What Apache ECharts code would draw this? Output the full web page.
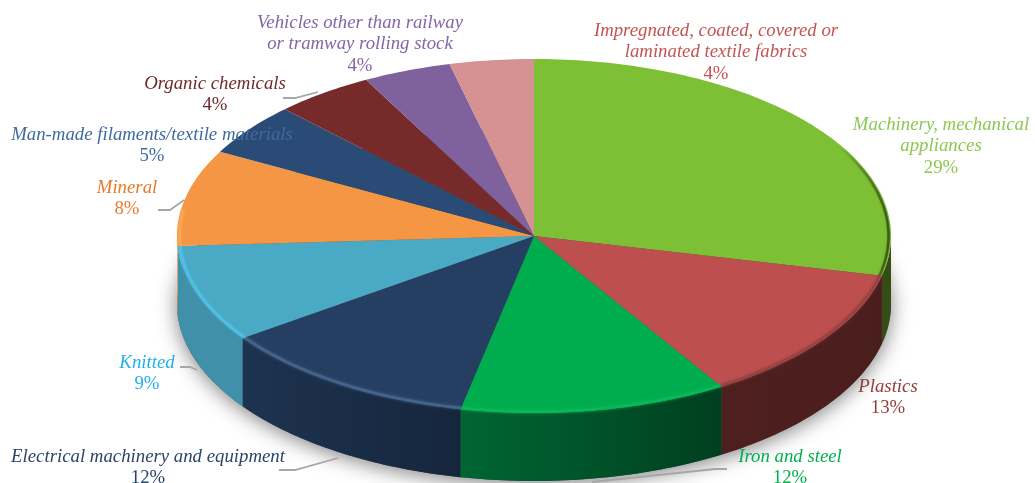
<!DOCTYPE html>
<html>
<head>
<meta charset="utf-8">
<title>Export shares by product group</title>
<style>
  html, body { margin: 0; padding: 0; background: #fff; }
  #chart { width: 1035px; height: 483px; }
</style>
<script src="https://cdn.jsdelivr.net/npm/echarts@6/dist/echarts.min.js"></script>
</head>
<body>
<div id="chart"></div>
<script>
// values, clockwise from 12 o'clock
const categories = [
  'Machinery, mechanical\nappliances',
  'Plastics',
  'Iron and steel',
  'Electrical machinery and equipment',
  'Knitted',
  'Mineral',
  'Man-made filaments/textile materials',
  'Organic chemicals',
  'Vehicles other than railway\nor tramway rolling stock',
  'Impregnated, coated, covered or\nlaminated textile fabrics'
]
// slice sizes as drawn, and the percentages printed on the labels
const shares = [28.6, 12.6, 12.1, 11.9, 8.9, 8.8, 4.8, 4.5, 4.0, 3.8]
const shareLabels = [29, 13, 12, 12, 9, 8, 5, 4, 4, 4]

// colours
const topColors = ['#7dbf35', '#bd4f4e', '#00ad4e', '#243f62', '#4aa9c4', '#f59644', '#2a4b75', '#762a2a', '#7f629d', '#d69292']
const wallColors = [
  ['#344d14', '#344d14'], ['#4f1f1f', '#4b1e1e'], ['#006633', '#003f1f'], ['#1e3350', '#15263c'], ['#4090aa', '#4090aa'],
  ['#f0a050', '#f0a050'], ['#1e3350', '#1e3350'], ['#5a2020', '#5a2020'], ['#5f4a76', '#5f4a76'], ['#a06e6e', '#a06e6e']
]
const rimColors = ['#4a6a1c', '#9a4242', '#0bb858', '#45648c', '#4fc0e6', '#fba656', null, null, null, null]
const labelColors = ['#8cc850', '#943c3c', '#00b050', '#2b4468', '#1fb0ea', '#e97a27', '#3f6a9f', '#6f2a2a', '#8266a8', '#c65353']

// layout: label centre x / top y, and the leader lines
const labelPos = [[941, 114], [888, 376], [790, 446], [148, 446], [147, 352], [127, 177], [152, 124], [215, 73], [360, 12], [716, 20]]
const leaderPaths = [
  null, null,
  [[727, 469], [715, 469], [592, 482]],
  [[279, 470], [295, 470], [338, 458]],
  [[180, 367], [190, 367], [197, 370]],
  [[158, 210], [170, 210], [184, 200]],
  null,
  [[283, 98], [295, 98], [318, 92]],
  null, null
]
const PIE = { cx: 534, cy: 236, rx: 357, ry: 177, depth: 68 }
const LABEL_FONT = '"Liberation Serif", "Times New Roman", serif'

const total = shares.reduce((a, b) => a + b, 0)
const starts = []
shares.reduce((sum, v, i) => { starts[i] = sum / total * 360; return sum + v }, 0)

function ellipsePt(deg, dy = 0, k = 1) {
  const t = deg * Math.PI / 180
  return [PIE.cx + PIE.rx * k * Math.sin(t), PIE.cy + dy - PIE.ry * k * Math.cos(t)]
}

function arcPts(from, to, dy = 0, k = 1) {
  const n = Math.max(2, Math.ceil(Math.abs(to - from)))
  const pts = []
  for (let i = 0; i <= n; i++) pts.push(ellipsePt(from + (to - from) * i / n, dy, k))
  return pts
}

function renderBase() {
  return {
    type: 'polygon',
    shape: { points: arcPts(0, 360, PIE.depth) },
    style: { fill: '#555', shadowBlur: 20, shadowColor: 'rgba(0,0,0,0.5)', shadowOffsetY: 3 }
  }
}

function renderWalls(params, api) {
  const i = params.dataIndex
  const from = Math.max(starts[i], 90)
  const to = Math.min(starts[i] + api.value(0) / total * 360, 270)
  if (to <= from) return { type: 'group', children: [] }
  const fill = {
    type: 'linear', x: 0, y: 0, x2: 1, y2: 0,
    colorStops: [{ offset: 0, color: wallColors[i][0] }, { offset: 1, color: wallColors[i][1] }]
  }
  return {
    type: 'polygon',
    shape: { points: arcPts(from, to).concat(arcPts(to, from, PIE.depth)) },
    style: { fill }
  }
}

function renderTops(params, api) {
  const i = params.dataIndex
  const from = starts[i]
  const to = from + api.value(0) / total * 360
  const children = [{
    type: 'polygon',
    shape: { points: [[PIE.cx, PIE.cy]].concat(arcPts(from, to)) },
    style: { fill: topColors[i] }
  }]
  if (rimColors[i]) {
    // bevel along the outer edge; the big green slice only darkens towards its right end
    const rimFrom = i === 0 ? 60 : from
    const rimTo = i === 5 ? from + 12 : to
    const stroke = i === 0
      ? { type: 'linear', x: 0, y: 0, x2: 1, y2: 0, colorStops: [{ offset: 0, color: 'rgba(60,90,20,0)' }, { offset: 0.8, color: 'rgba(60,90,20,0.8)' }, { offset: 1, color: '#3a5612' }] }
      : rimColors[i]
    children.push({
      type: 'polyline',
      shape: { points: arcPts(rimFrom, rimTo, 0, 0.993) },
      style: { fill: null, stroke, lineWidth: 2.5, shadowBlur: 3, shadowColor: i === 0 ? 'rgba(60,90,20,0.4)' : rimColors[i] }
    })
  }
  return { type: 'group', children }
}

function labelRich(i) {
  const lines = categories[i].split('\n').map(s => `{n|${s}}`)
  lines.push(`{p|${shareLabels[i]}%}`)
  return lines.join('\n')
}

function renderLabels(params) {
  const i = params.dataIndex
  const children = []
  if (leaderPaths[i]) {
    children.push({
      type: 'polyline',
      shape: { points: leaderPaths[i] },
      style: { fill: null, stroke: '#a6a6a6', lineWidth: 1.8 }
    })
  }
  children.push({
    type: 'text',
    style: {
      x: labelPos[i][0],
      y: labelPos[i][1],
      text: labelRich(i),
      align: 'center',
      verticalAlign: 'top',
      rich: {
        n: { fontFamily: LABEL_FONT, fontStyle: 'italic', fontSize: 18.8, lineHeight: 21.5, fill: labelColors[i], align: 'center' },
        p: { fontFamily: LABEL_FONT, fontSize: 18.8, lineHeight: 21.5, fill: labelColors[i], align: 'center' }
      }
    }
  })
  return { type: 'group', children }
}

const rows = shares.map(v => [v])
const chart = echarts.init(document.getElementById('chart'), null, { renderer: 'canvas' })
chart.setOption({
  animation: false,
  tooltip: { show: false },
  series: [
    { type: 'custom', coordinateSystem: 'none', z: 1, silent: true, data: [[1]], renderItem: renderBase },
    { type: 'custom', coordinateSystem: 'none', z: 2, silent: true, data: rows, renderItem: renderWalls },
    { type: 'custom', coordinateSystem: 'none', z: 3, silent: true, data: rows, renderItem: renderTops },
    { type: 'custom', coordinateSystem: 'none', z: 4, silent: true, data: rows, renderItem: renderLabels }
  ]
})
</script>
</body>
</html>
